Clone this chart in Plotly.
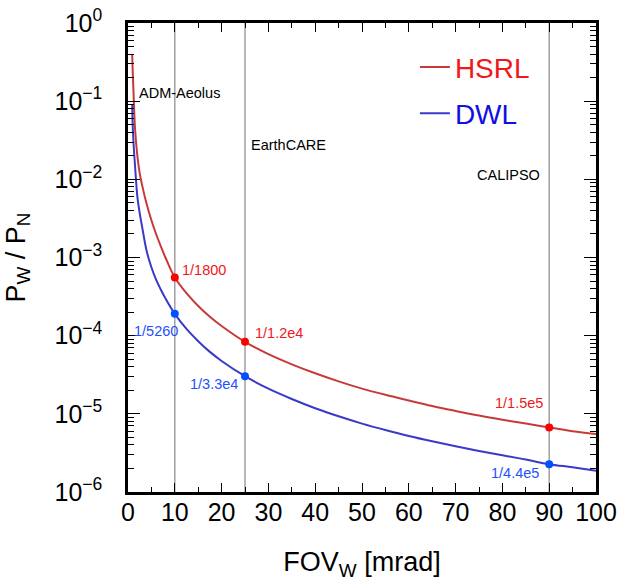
import math
import plotly.graph_objects as go

# ---- data ----
fov = [0.9, 1.0, 1.25, 1.5, 2, 2.5, 3, 4, 5, 6, 7, 8, 10, 12.5, 15, 17.5, 20, 25,
       30, 35, 40, 45, 50, 55, 60, 65, 70, 75, 80, 85, 90, 95, 100]
hsrl = [0.39, 0.25, 0.10, 0.045, 0.020, 0.012, 0.0085, 0.0048, 0.0030, 0.0020, 0.0014,
        0.0010, 5.56e-4, 3.5e-4, 2.4e-4, 1.75e-4, 1.33e-4, 8.33e-5,
        5.8e-5, 4.3e-5, 3.3e-5, 2.6e-5, 2.1e-5, 1.75e-5, 1.48e-5, 1.26e-5, 1.09e-5,
        9.5e-6, 8.4e-6, 7.5e-6, 6.67e-6, 6.0e-6, 5.5e-6]
dwl = [0.09, 0.05, 0.025, 0.015, 0.006, 0.0037, 0.0025, 0.0012, 7.5e-4, 5.2e-4, 3.9e-4,
       3.0e-4, 1.90e-4, 1.22e-4, 8.5e-5, 6.2e-5, 4.75e-5, 3.03e-5,
       2.1e-5, 1.55e-5, 1.18e-5, 9.3e-6, 7.5e-6, 6.2e-6, 5.2e-6, 4.45e-6, 3.85e-6,
       3.35e-6, 2.95e-6, 2.6e-6, 2.27e-6, 2.07e-6, 1.87e-6]

missions = ["ADM-Aeolus", "EarthCARE", "CALIPSO"]
mission_fov = [10, 25, 90]
hsrl_den = [1800, 1.2e4, 1.5e5]
dwl_den = [5260, 3.3e4, 4.4e5]
hsrl_lbl = ["1/1800", "1/1.2e4", "1/1.5e5"]
dwl_lbl = ["1/5260", "1/3.3e4", "1/4.4e5"]
mission_ypaper = [0.851, 0.740, 0.676]

y_exponents = [-6, -5, -4, -3, -2, -1, 0]
y_tickvals = [10.0 ** e for e in y_exponents]
y_ticktext = ["10<sup>" + ("\u2212" if e < 0 else "") + str(abs(e)) + "</sup>" for e in y_exponents]
y_minorvals = [m * 10.0 ** e for e in y_exponents[:-1] for m in range(2, 10)]

RED_LINE = "#c83a3a"
BLUE_LINE = "#3a3ac8"
RED_TXT = "#f01818"
BLUE_TXT = "#1f4fff"
FONT = "Liberation Sans, Arial, Helvetica, sans-serif"
SMALL = 14.5

fig = go.Figure()

for xv in mission_fov:
    fig.add_vline(x=xv, line_color="#a0a0a0", line_width=1.5, layer="below")

fig.add_trace(go.Scatter(x=fov, y=hsrl, mode="lines", line=dict(color=RED_LINE, width=2, shape="spline"),
                         name=f"<span style='color:{RED_TXT}'>HSRL</span>", legendgroup="a"))
fig.add_trace(go.Scatter(x=fov, y=dwl, mode="lines", line=dict(color=BLUE_LINE, width=2, shape="spline"),
                         name="<span style='color:#1010e0'>DWL</span>", legendgroup="b"))

fig.add_trace(go.Scatter(x=mission_fov, y=[1 / d for d in hsrl_den], mode="markers",
                         marker=dict(color="#ff0000", size=8), showlegend=False))
fig.add_trace(go.Scatter(x=mission_fov, y=[1 / d for d in dwl_den], mode="markers",
                         marker=dict(color="#0050ff", size=8), showlegend=False))

# point labels
h_offsets = [("left", 5, 7), ("left", 8, 9), ("right", -4, 25)]
d_offsets = [("right", 5, -17), ("right", -5, -8), ("right", -8, -9)]
for xv, d, t, (anc, xs, ys) in zip(mission_fov, hsrl_den, hsrl_lbl, h_offsets):
    fig.add_annotation(x=xv, y=-math.log10(d), text=t, showarrow=False,
                       xanchor=anc, yanchor="middle", xshift=xs, yshift=ys,
                       font=dict(color=RED_TXT, size=SMALL, family=FONT))
for xv, d, t, (anc, xs, ys) in zip(mission_fov, dwl_den, dwl_lbl, d_offsets):
    fig.add_annotation(x=xv, y=-math.log10(d), text=t, showarrow=False,
                       xanchor=anc, yanchor="middle", xshift=xs, yshift=ys,
                       font=dict(color=BLUE_TXT, size=SMALL, family=FONT))

# mission labels
m_anchor = [("center", 5), ("left", 4), ("right", -7)]
for name, xv, yp, (anc, xs) in zip(missions, mission_fov, mission_ypaper, m_anchor):
    fig.add_annotation(x=xv, y=yp, yref="paper", text=name, showarrow=False,
                       xanchor=anc, yanchor="middle", xshift=xs,
                       font=dict(color="black", size=SMALL, family=FONT))

fig.update_layout(
    width=621, height=581,
    margin=dict(l=128, r=25, t=23, b=89),
    paper_bgcolor="white", plot_bgcolor="white",
    font=dict(family=FONT, color="black", size=24),
    legend=dict(x=0.613, y=0.959, xanchor="left", yanchor="top", bgcolor="rgba(0,0,0,0)",
                font=dict(size=28, family=FONT), tracegroupgap=7),
    showlegend=True,
)
fig.update_xaxes(
    range=[0, 100], tick0=0, dtick=10, showgrid=False, zeroline=False, automargin=False,
    showline=True, linecolor="black", linewidth=2.5, mirror="allticks",
    ticks="inside", ticklen=9, tickwidth=1.2, tickcolor="black",
    minor=dict(ticks="inside", ticklen=5, tickwidth=1.2, tickcolor="black", dtick=5, showgrid=False),
    tickfont=dict(size=25, family=FONT), ticklabelstandoff=-4, ticklabeloverflow="allow",
    title=dict(text="FOV<sub>W</sub> [mrad]", font=dict(size=27, family=FONT), standoff=33),
)
fig.update_yaxes(
    type="log", range=[-6, 0], tickmode="array", tickvals=y_tickvals, ticktext=y_ticktext,
    showgrid=False, zeroline=False, automargin=False,
    showline=True, linecolor="black", linewidth=2.5, mirror="allticks",
    ticks="inside", ticklen=12, tickwidth=1.2, tickcolor="black",
    minor=dict(ticks="inside", ticklen=6, tickwidth=1.2, tickcolor="black",
               tickmode="array", tickvals=y_minorvals, showgrid=False),
    tickfont=dict(size=25, family=FONT), ticklabelstandoff=18, ticklabeloverflow="allow",
    title=dict(text="P<sub>W</sub> / P<sub>N</sub>", font=dict(size=27, family=FONT), standoff=22),
)

fig.write_html("out.html", config={"displayModeBar": False},
               post_script="document.body.style.margin='0';")
